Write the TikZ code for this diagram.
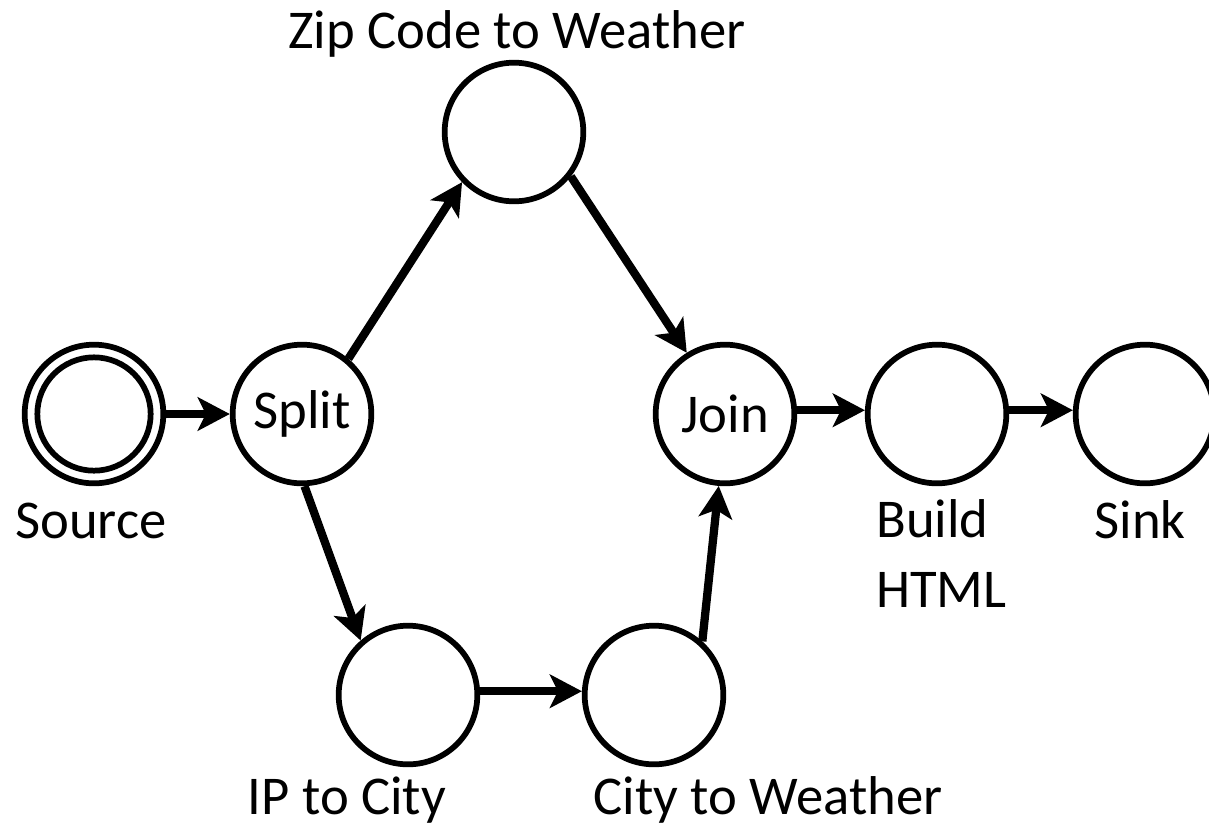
\documentclass[tikz,border=0pt]{standalone}
\usepackage{fontspec}
\setmainfont{Carlito}
\usetikzlibrary{arrows.meta}
\begin{document}
\begin{tikzpicture}[x=0.75pt,y=-0.75pt,
  state/.style={circle,draw,line width=4.3pt,minimum size=104pt,inner sep=0pt,font=\fontsize{41}{52.5}\selectfont},
  lbl/.style={inner sep=0pt,font=\fontsize{41}{52.5}\selectfont},
  conn/.style={line width=6.2pt,-{Stealth[length=24pt,width=25pt,inset=6pt]}}]
\useasboundingbox (0,0) rectangle (1209,829);
\node[state] (src) at (94,414) {};
\node[state,minimum size=85pt] (srcin) at (94,414) {};
\node[state] (split) at (302,414) {Split};
\node[state] (zip) at (514,132) {};
\node[state] (join) at (725,414) {Join};
\node[state] (build) at (937,414) {};
\node[state] (sink) at (1145,414) {};
\node[state] (ip) at (408,695) {};
\node[state] (city) at (654,695) {};
\node[lbl,anchor=base] (lzip) at (517,48) {Zip Code to Weather};
\node[lbl,anchor=base] (lsrc) at (91,538) {Source};
\node[lbl,anchor=base west,align=left] (lbuild) at (876,607) {Build\\HTML};
\node[lbl,anchor=base] (lsink) at (1140,538) {Sink};
\node[lbl,anchor=base] (lip) at (347,814) {IP to City};
\node[lbl,anchor=base] (lcity) at (768,814) {City to Weather};
\draw[conn] (src) -- (split);
\draw[conn] (split.50) -- (zip.224);
\draw[conn] (zip.-38) -- (join.122);
\draw[conn] (split.-88) -- (ip.131);
\draw[conn] (ip.3) -- (city.177);
\draw[conn] (city.48) -- (join.-95);
\draw[conn] (join.3) -- (build.177);
\draw[conn] (build.3) -- (sink.177);
\end{tikzpicture}
\end{document}
